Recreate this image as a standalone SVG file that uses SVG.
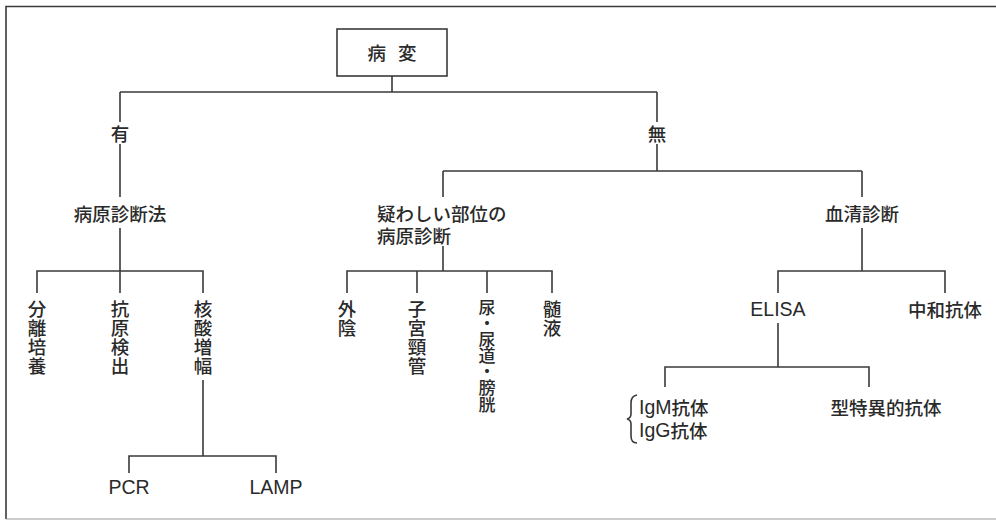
<svg xmlns="http://www.w3.org/2000/svg" width="996" height="521" viewBox="0 0 996 521">
<style>
.ln{stroke:#3a3a3a;stroke-width:1.6;fill:none}
.t{font-family:"Noto Sans CJK JP","Liberation Sans",sans-serif;font-size:18.5px;font-weight:500;fill:#2a2a2a;text-anchor:middle;dominant-baseline:central}
.tl{text-anchor:start}
.v{writing-mode:vertical-rl;text-anchor:start;letter-spacing:0.3px}
.lat{font-family:"Liberation Sans","Noto Sans CJK JP",sans-serif;font-size:19.5px;font-weight:400}
</style>
<rect width="996" height="521" fill="#ffffff"/>
<g id="frame">
<path d="M6,519 V6.5 H996" class="ln" stroke-width="1.8"/>
<path d="M6,519 H996" stroke="#9a9a9a" stroke-width="1.2" fill="none"/>
</g>
<g id="connectors">
<path class="ln" d="M392,76 V92 M120,92 H657 M120,92 V122 M120,144 V197 M120,228 V271 M37,293 V271 H203 V293 M120,271 V293"/>
<path class="ln" d="M203,380 V456 M129,473 V456 H276 V473"/>
<path class="ln" d="M657,92 V122 M657,144 V171 M443,171 H862 M443,171 V197 M862,171 V197 M443,246 V271 M862,228 V271"/>
<path class="ln" d="M347,293 V271 H552 V293 M417,271 V293 M487,271 V293"/>
<path class="ln" d="M778,293 V271 H945 V293 M778,323 V367 M665,387 V367 H869 V387"/>
<path class="ln" stroke-width="1.3" d="M637,395 Q631,396 631,403 V414 Q631,418 627,419 Q631,420 631,424 V436 Q631,443 637,443"/>
</g>
<g id="n-root"><rect x="337" y="29" width="110" height="47" class="ln" fill="#fff"/><text class="t" x="392" y="52" font-size="19">病 <tspan dx="8">変</tspan></text></g>
<g id="n-yes"><text class="t" x="120" y="133">有</text></g>
<g id="n-no"><text class="t" x="657" y="133">無</text></g>
<g id="n-pathogen"><text class="t" x="120" y="213">病原診断法</text></g>
<g id="n-suspect"><text class="t tl"><tspan x="377" y="213">疑わしい部位の</tspan><tspan x="377" y="235">病原診断</tspan></text></g>
<g id="n-serum"><text class="t" x="862" y="213">血清診断</text></g>
<g id="n-culture"><text class="t v" x="37" y="300">分離培養</text></g>
<g id="n-antigen"><text class="t v" x="120" y="300">抗原検出</text></g>
<g id="n-nucleic"><text class="t v" x="203" y="300">核酸増幅</text></g>
<g id="n-pcr"><text class="t lat" x="129" y="487">PCR</text></g>
<g id="n-lamp"><text class="t lat" x="276" y="487">LAMP</text></g>
<g id="n-vulva"><text class="t v" x="347" y="300">外陰</text></g>
<g id="n-cervix"><text class="t v" x="417" y="300">子宮頸管</text></g>
<g id="n-urine"><text class="t v" x="487" y="299" style="font-size:17px;letter-spacing:-0.9px">尿・尿道・膀胱</text></g>
<g id="n-csf"><text class="t v" x="552" y="300">髄液</text></g>
<g id="n-elisa"><text class="t lat" x="778" y="309">ELISA</text></g>
<g id="n-neutral"><text class="t" x="945" y="309">中和抗体</text></g>
<g id="n-igm"><text class="t tl"><tspan x="639" y="407"><tspan class="lat">IgM</tspan>抗体</tspan><tspan x="639" y="430"><tspan class="lat">IgG</tspan>抗体</tspan></text></g>
<g id="n-type"><text class="t" x="886" y="407">型特異的抗体</text></g>
</svg>
